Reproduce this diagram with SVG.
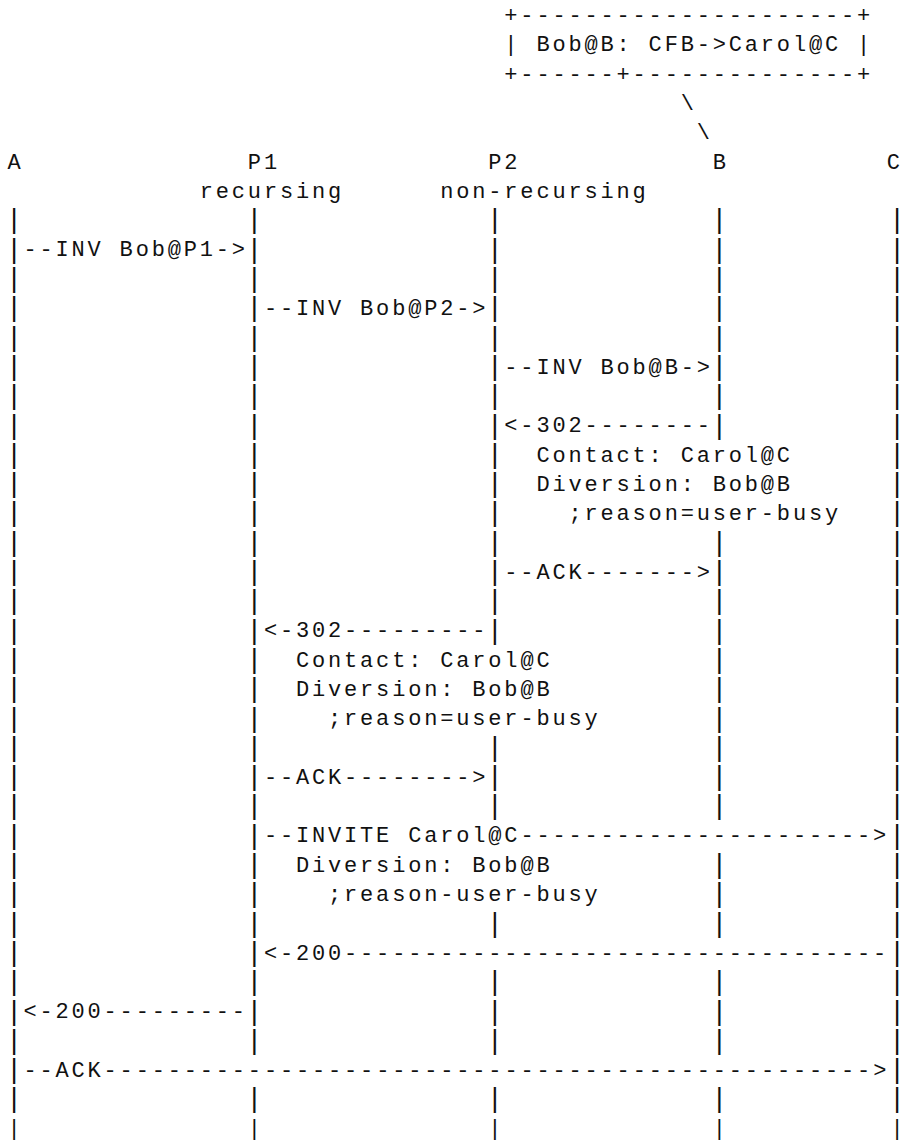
<svg xmlns="http://www.w3.org/2000/svg" width="900" height="1141" viewBox="0 0 900 1141">
<style>
text { font-family: "Liberation Mono", "DejaVu Sans Mono", monospace; font-size: 22px; letter-spacing: 2.83px; fill: #111; white-space: pre; }
text.bar { font-size: 27px; letter-spacing: 0px; }
text.edge { letter-spacing: -5.5px; }
text.lbl-edge { letter-spacing: 0px; }
tspan.last { font-size: 22px; }
</style>
<rect x="0" y="0" width="900" height="1141" fill="#ffffff"/>
<g id="note-box">
<text x="504.33" y="22">+---------------------+</text>
<text x="504.33" y="51.3">| Bob@B: CFB-&gt;Carol@C |</text>
<text x="504.33" y="80.6">+------+--------------+</text>
</g>
<g id="node-A">
<text x="7.4" y="168.5">A</text>
<text class="bar" transform="translate(0,1.4)"><tspan x="5.9" y="227.1">|</tspan><tspan x="5.9" y="256.4">|</tspan><tspan x="5.9" y="285.7">|</tspan><tspan x="5.9" y="315">|</tspan><tspan x="5.9" y="344.3">|</tspan><tspan x="5.9" y="373.6">|</tspan><tspan x="5.9" y="402.9">|</tspan><tspan x="5.9" y="432.2">|</tspan><tspan x="5.9" y="461.5">|</tspan><tspan x="5.9" y="490.8">|</tspan><tspan x="5.9" y="520.1">|</tspan><tspan x="5.9" y="549.4">|</tspan><tspan x="5.9" y="578.7">|</tspan><tspan x="5.9" y="608">|</tspan><tspan x="5.9" y="637.3">|</tspan><tspan x="5.9" y="666.6">|</tspan><tspan x="5.9" y="695.9">|</tspan><tspan x="5.9" y="725.2">|</tspan><tspan x="5.9" y="754.5">|</tspan><tspan x="5.9" y="783.8">|</tspan><tspan x="5.9" y="813.1">|</tspan><tspan x="5.9" y="842.4">|</tspan><tspan x="5.9" y="871.7">|</tspan><tspan x="5.9" y="901">|</tspan><tspan x="5.9" y="930.3">|</tspan><tspan x="5.9" y="959.6">|</tspan><tspan x="5.9" y="988.9">|</tspan><tspan x="5.9" y="1018.2">|</tspan><tspan x="5.9" y="1047.5">|</tspan><tspan x="5.9" y="1076.8">|</tspan><tspan x="5.9" y="1106.1">|</tspan><tspan class="last" x="7.4" y="1134">|</tspan></text>
</g>
<g id="node-P1">
<text x="247.85" y="168.5">P1</text>
<text x="199.76" y="197.8">recursing</text>
<text class="bar" transform="translate(0,1.4)"><tspan x="246.35" y="227.1">|</tspan><tspan x="246.35" y="256.4">|</tspan><tspan x="246.35" y="285.7">|</tspan><tspan x="246.35" y="315">|</tspan><tspan x="246.35" y="344.3">|</tspan><tspan x="246.35" y="373.6">|</tspan><tspan x="246.35" y="402.9">|</tspan><tspan x="246.35" y="432.2">|</tspan><tspan x="246.35" y="461.5">|</tspan><tspan x="246.35" y="490.8">|</tspan><tspan x="246.35" y="520.1">|</tspan><tspan x="246.35" y="549.4">|</tspan><tspan x="246.35" y="578.7">|</tspan><tspan x="246.35" y="608">|</tspan><tspan x="246.35" y="637.3">|</tspan><tspan x="246.35" y="666.6">|</tspan><tspan x="246.35" y="695.9">|</tspan><tspan x="246.35" y="725.2">|</tspan><tspan x="246.35" y="754.5">|</tspan><tspan x="246.35" y="783.8">|</tspan><tspan x="246.35" y="813.1">|</tspan><tspan x="246.35" y="842.4">|</tspan><tspan x="246.35" y="871.7">|</tspan><tspan x="246.35" y="901">|</tspan><tspan x="246.35" y="930.3">|</tspan><tspan x="246.35" y="959.6">|</tspan><tspan x="246.35" y="988.9">|</tspan><tspan x="246.35" y="1018.2">|</tspan><tspan x="246.35" y="1047.5">|</tspan><tspan x="246.35" y="1106.1">|</tspan><tspan class="last" x="247.85" y="1134">|</tspan></text>
</g>
<g id="node-P2">
<text x="488.3" y="168.5">P2</text>
<text x="440.21" y="197.8">non-recursing</text>
<text class="bar" transform="translate(0,1.4)"><tspan x="486.8" y="227.1">|</tspan><tspan x="486.8" y="256.4">|</tspan><tspan x="486.8" y="285.7">|</tspan><tspan x="486.8" y="315">|</tspan><tspan x="486.8" y="344.3">|</tspan><tspan x="486.8" y="373.6">|</tspan><tspan x="486.8" y="402.9">|</tspan><tspan x="486.8" y="432.2">|</tspan><tspan x="486.8" y="461.5">|</tspan><tspan x="486.8" y="490.8">|</tspan><tspan x="486.8" y="520.1">|</tspan><tspan x="486.8" y="549.4">|</tspan><tspan x="486.8" y="578.7">|</tspan><tspan x="486.8" y="608">|</tspan><tspan x="486.8" y="637.3">|</tspan><tspan x="486.8" y="754.5">|</tspan><tspan x="486.8" y="783.8">|</tspan><tspan x="486.8" y="813.1">|</tspan><tspan x="486.8" y="930.3">|</tspan><tspan x="486.8" y="988.9">|</tspan><tspan x="486.8" y="1018.2">|</tspan><tspan x="486.8" y="1047.5">|</tspan><tspan x="486.8" y="1106.1">|</tspan><tspan class="last" x="488.3" y="1134">|</tspan></text>
</g>
<g id="node-B">
<text x="712.72" y="168.5">B</text>
<text class="bar" transform="translate(0,1.4)"><tspan x="711.22" y="227.1">|</tspan><tspan x="711.22" y="256.4">|</tspan><tspan x="711.22" y="285.7">|</tspan><tspan x="711.22" y="315">|</tspan><tspan x="711.22" y="344.3">|</tspan><tspan x="711.22" y="373.6">|</tspan><tspan x="711.22" y="402.9">|</tspan><tspan x="711.22" y="432.2">|</tspan><tspan x="711.22" y="549.4">|</tspan><tspan x="711.22" y="578.7">|</tspan><tspan x="711.22" y="608">|</tspan><tspan x="711.22" y="637.3">|</tspan><tspan x="711.22" y="666.6">|</tspan><tspan x="711.22" y="695.9">|</tspan><tspan x="711.22" y="725.2">|</tspan><tspan x="711.22" y="754.5">|</tspan><tspan x="711.22" y="783.8">|</tspan><tspan x="711.22" y="813.1">|</tspan><tspan x="711.22" y="871.7">|</tspan><tspan x="711.22" y="901">|</tspan><tspan x="711.22" y="930.3">|</tspan><tspan x="711.22" y="988.9">|</tspan><tspan x="711.22" y="1018.2">|</tspan><tspan x="711.22" y="1047.5">|</tspan><tspan x="711.22" y="1106.1">|</tspan><tspan class="last" x="712.72" y="1134">|</tspan></text>
</g>
<g id="node-C">
<text class="lbl-edge" x="886.8" y="168.5">C</text>
<text class="bar edge" transform="translate(0,1.4)"><tspan x="889.05" y="227.1">|</tspan><tspan x="889.05" y="256.4">|</tspan><tspan x="889.05" y="285.7">|</tspan><tspan x="889.05" y="315">|</tspan><tspan x="889.05" y="344.3">|</tspan><tspan x="889.05" y="373.6">|</tspan><tspan x="889.05" y="402.9">|</tspan><tspan x="889.05" y="432.2">|</tspan><tspan x="889.05" y="461.5">|</tspan><tspan x="889.05" y="490.8">|</tspan><tspan x="889.05" y="520.1">|</tspan><tspan x="889.05" y="549.4">|</tspan><tspan x="889.05" y="578.7">|</tspan><tspan x="889.05" y="608">|</tspan><tspan x="889.05" y="637.3">|</tspan><tspan x="889.05" y="666.6">|</tspan><tspan x="889.05" y="695.9">|</tspan><tspan x="889.05" y="725.2">|</tspan><tspan x="889.05" y="754.5">|</tspan><tspan x="889.05" y="783.8">|</tspan><tspan x="889.05" y="813.1">|</tspan><tspan x="889.05" y="842.4">|</tspan><tspan x="889.05" y="871.7">|</tspan><tspan x="889.05" y="901">|</tspan><tspan x="889.05" y="930.3">|</tspan><tspan x="889.05" y="959.6">|</tspan><tspan x="889.05" y="988.9">|</tspan><tspan x="889.05" y="1018.2">|</tspan><tspan x="889.05" y="1047.5">|</tspan><tspan x="889.05" y="1076.8">|</tspan><tspan x="889.05" y="1106.1">|</tspan><tspan class="last" x="890.55" y="1134">|</tspan></text>
</g>
<g id="connectors">
<text x="680.66" y="109.9">\</text>
<text x="696.69" y="139.2">\</text>
<text x="23.43" y="256.4">--INV Bob@P1-&gt;</text>
<text x="263.88" y="315">--INV Bob@P2-&gt;</text>
<text x="504.33" y="373.6">--INV Bob@B-&gt;</text>
<text x="504.33" y="432.2">&lt;-302--------</text>
<text x="536.39" y="461.5">Contact: Carol@C</text>
<text x="536.39" y="490.8">Diversion: Bob@B</text>
<text x="568.45" y="520.1">;reason=user-busy</text>
<text x="504.33" y="578.7">--ACK-------&gt;</text>
<text x="263.88" y="637.3">&lt;-302---------</text>
<text x="295.94" y="666.6">Contact: Carol@C</text>
<text x="295.94" y="695.9">Diversion: Bob@B</text>
<text x="328" y="725.2">;reason=user-busy</text>
<text x="263.88" y="783.8">--ACK--------&gt;</text>
<text x="263.88" y="842.4">--INVITE Carol@C----------------------&gt;</text>
<text x="295.94" y="871.7">Diversion: Bob@B</text>
<text x="328" y="901">;reason-user-busy</text>
<text x="263.88" y="959.6">&lt;-200----------------------------------</text>
<text x="23.43" y="1018.2">&lt;-200---------</text>
<text x="23.43" y="1076.8">--ACK------------------------------------------------&gt;</text>
</g>
</svg>
